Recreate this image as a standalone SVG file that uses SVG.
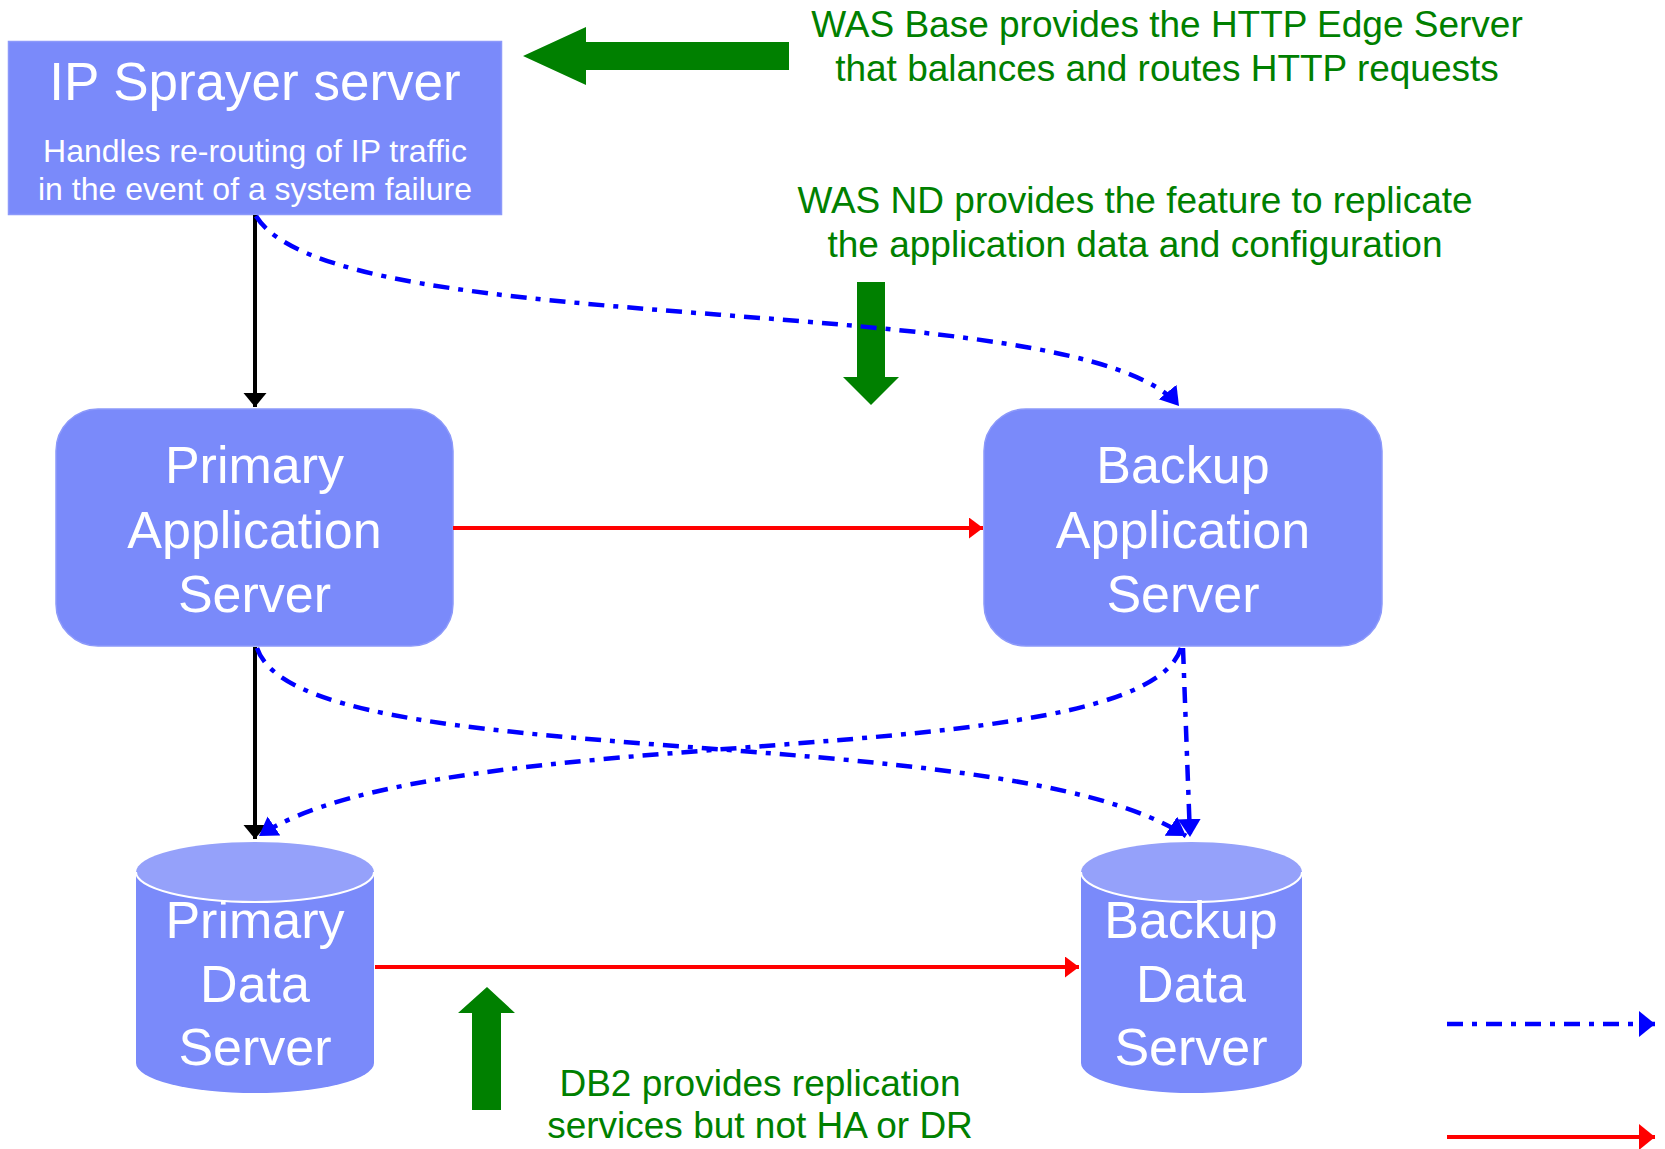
<svg xmlns="http://www.w3.org/2000/svg" width="1665" height="1149" viewBox="0 0 1665 1149">
<style>
.box{fill:#7A8AFA;stroke:#8C99FA;stroke-width:1.5}
.cyl{fill:#7A8AFA}
.cyltop{fill:#95A1FA}
.cylrim{fill:none;stroke:#FFFFFF;stroke-width:2}
.t{font-family:"Liberation Sans",Arial,sans-serif;fill:#FFFFFF;text-anchor:middle}
.big{font-size:52px}
.g{font-family:"Liberation Sans",Arial,sans-serif;fill:#008000;font-size:37px;text-anchor:middle}
.garrow{fill:#008000}
.blk{fill:none;stroke:#000000;stroke-width:4}
.red{fill:none;stroke:#FF0000;stroke-width:4}
.blue{fill:none;stroke:#0000FF;stroke-width:4.5;stroke-dasharray:16 9 5 9}
</style>
<defs>
<marker id="mb" markerUnits="userSpaceOnUse" markerWidth="16" markerHeight="24" refX="14" refY="11.5" orient="auto"><path d="M0,0 L14,11.5 L0,23 z" fill="#000000"/></marker>
<marker id="mr" markerUnits="userSpaceOnUse" markerWidth="16" markerHeight="22" refX="14" refY="10.5" orient="auto"><path d="M0,0 L14,10.5 L0,21 z" fill="#FF0000"/></marker>
<marker id="mu" markerUnits="userSpaceOnUse" markerWidth="20" markerHeight="24" refX="18" refY="11.5" orient="auto"><path d="M0,0 L18,11.5 L0,23 z" fill="#0000FF"/></marker>
<marker id="mrL" markerUnits="userSpaceOnUse" markerWidth="18" markerHeight="28" refX="16" refY="13" orient="auto"><path d="M0,0 L16,13 L0,26 z" fill="#FF0000"/></marker>
<marker id="muL" markerUnits="userSpaceOnUse" markerWidth="18" markerHeight="28" refX="16" refY="13" orient="auto"><path d="M0,0 L16,13 L0,26 z" fill="#0000FF"/></marker>
</defs>
<rect width="1665" height="1149" fill="#FFFFFF"/>

<g id="callouts">
<polygon class="garrow" points="523,56 586,27 586,42 789,42 789,70 586,70 586,85"/>
<polygon class="garrow" points="857,282 885,282 885,377 899,377 871,405 843,377 857,377"/>
<polygon class="garrow" points="472,1110 501,1110 501,1013 515,1013 487,987 458,1013 472,1013"/>
<text class="g" x="1167" y="37">WAS Base provides the HTTP Edge Server</text>
<text class="g" x="1167" y="81">that balances and routes HTTP requests</text>
<text class="g" x="1135" y="213">WAS ND provides the feature to replicate</text>
<text class="g" x="1135" y="257">the application data and configuration</text>
<text class="g" x="760" y="1096">DB2 provides replication</text>
<text class="g" x="760" y="1138">services but not HA or DR</text>
</g>

<g id="ip-sprayer">
<rect class="box" x="8.5" y="41.5" width="493" height="173"/>
<text class="t" x="255" y="100" font-size="53">IP Sprayer server</text>
<text class="t" x="255" y="162" font-size="32">Handles re-routing of IP traffic</text>
<text class="t" x="255" y="200" font-size="32">in the event of a system failure</text>
</g>

<g id="primary-app">
<rect class="box" x="56" y="409" width="397" height="237" rx="42" ry="42"/>
<text class="t big" x="254.5" y="483">Primary</text>
<text class="t big" x="254.5" y="548">Application</text>
<text class="t big" x="254.5" y="612">Server</text>
</g>

<g id="backup-app">
<rect class="box" x="984" y="409" width="398" height="237" rx="42" ry="42"/>
<text class="t big" x="1183" y="483">Backup</text>
<text class="t big" x="1183" y="548">Application</text>
<text class="t big" x="1183" y="612">Server</text>
</g>

<g id="primary-data">
<path class="cyl" d="M136,872 L136,1063 A119,30 0 0 0 374,1063 L374,872 Z"/>
<ellipse class="cyltop" cx="255" cy="872" rx="119" ry="30"/>
<path class="cylrim" d="M136,872 A119,30 0 0 0 374,872"/>
<text class="t big" x="255" y="938">Primary</text>
<text class="t big" x="255" y="1002">Data</text>
<text class="t big" x="255" y="1065">Server</text>
</g>

<g id="backup-data">
<path class="cyl" d="M1081,872 L1081,1063 A110.5,30 0 0 0 1302,1063 L1302,872 Z"/>
<ellipse class="cyltop" cx="1191.5" cy="872" rx="110.5" ry="30"/>
<path class="cylrim" d="M1081,872 A110.5,30 0 0 0 1302,872"/>
<text class="t big" x="1191" y="938">Backup</text>
<text class="t big" x="1191" y="1002">Data</text>
<text class="t big" x="1191" y="1065">Server</text>
</g>

<g id="connectors">
<path class="blk" d="M255,215 L255,407" marker-end="url(#mb)"/>
<path class="blk" d="M255,647 L255,839" marker-end="url(#mb)"/>
<path class="red" d="M453,528 L983,528" marker-end="url(#mr)"/>
<path class="red" d="M375,967 L1079,967" marker-end="url(#mr)"/>
<path class="blue" d="M256,216 C335,345 1080,285 1179,406" marker-end="url(#mu)"/>
<path class="blue" d="M257,648 C300,778 1000,715 1186,836" marker-end="url(#mu)"/>
<path class="blue" d="M1181,648 C1140,778 440,715 259,836" marker-end="url(#mu)"/>
<path class="blue" d="M1183,648 L1190,837" marker-end="url(#mu)"/>
</g>

<g id="legend">
<path class="blue" d="M1447,1024 L1655,1024" marker-end="url(#muL)"/>
<path class="red" d="M1447,1137 L1655,1137" marker-end="url(#mrL)"/>
</g>
</svg>
